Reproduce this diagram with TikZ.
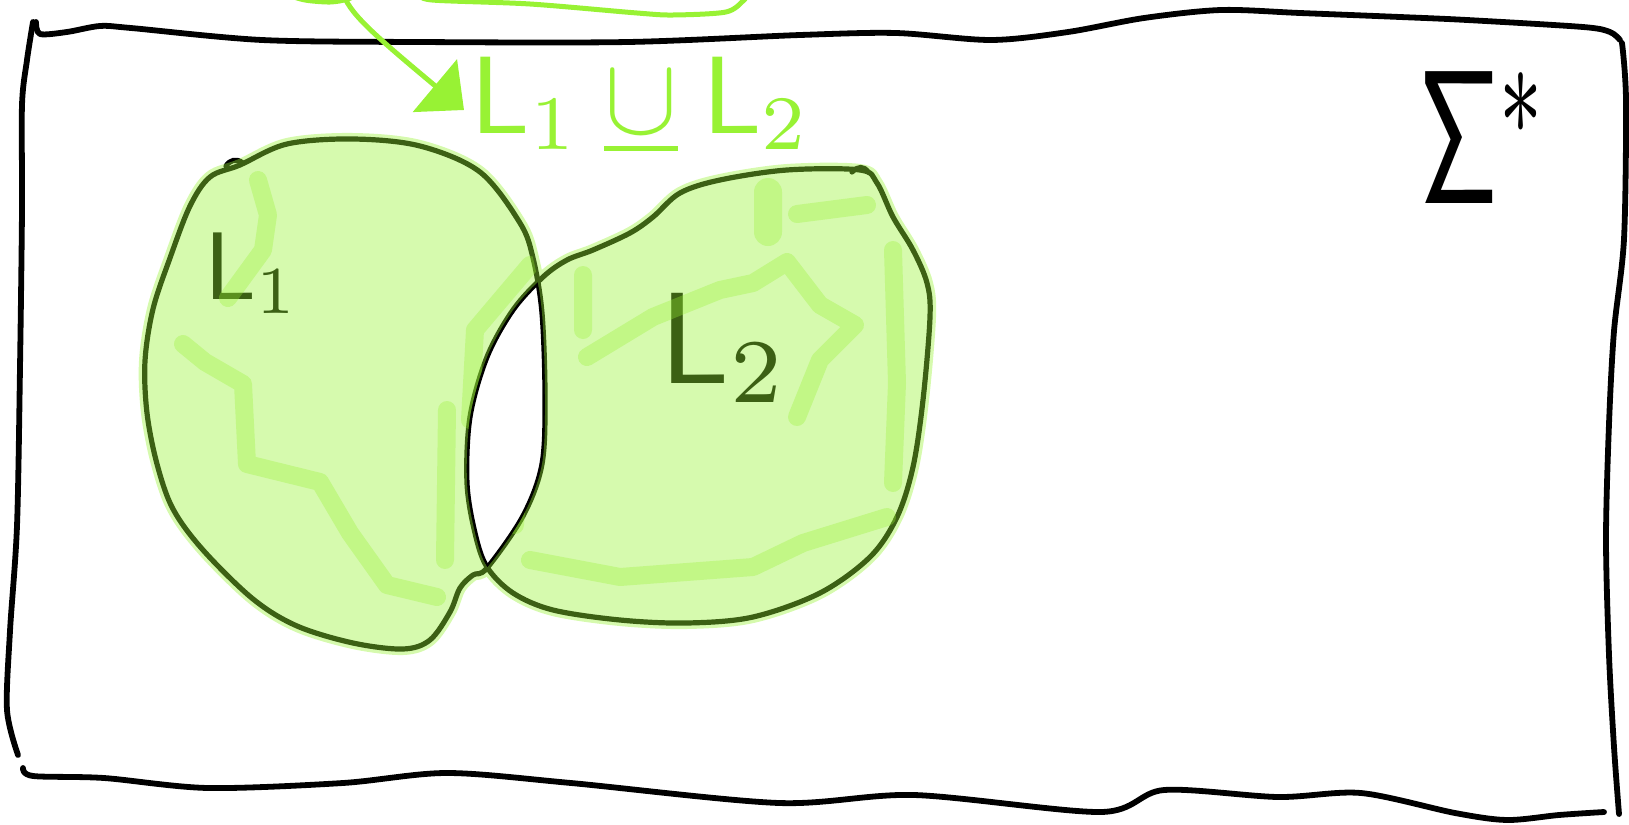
\documentclass[tikz,border=0pt]{standalone}
\usetikzlibrary{arrows.meta}
\definecolor{hl}{HTML}{98F234}
\tikzset{
  frame/.style={line width=2.9pt, line cap=round, line join=round, black},
  setline/.style={line width=2.6pt, line cap=round, line join=round, black},
  gline/.style={hl, line width=2.5pt, line cap=round, line join=round},
  patch/.style={hl, line width=9pt, line cap=round, line join=round}
}
\def\LonePath{plot[smooth cycle, tension=0.55] coordinates {
    (487,568) (523,516) (542,464) (545,396) (542,313) (533,258) (520,223)
    (480,172) (420,146) (353,139) (287,144) (240,165) (210,177) (190,206)
    (170,258) (153,309) (145,361) (147,413) (157,464) (173,509) (203,550)
    (253,599) (297,626) (353,643) (403,649) (430,640) (450,612) (460,588)
    (473,575)}}
\def\LtwoPath{plot[smooth cycle, tension=0.55] coordinates {
    (487,567) (513,593) (553,610) (620,620) (687,623) (753,617) (820,593)
    (870,557) (897,517) (913,467) (923,400) (930,317) (927,283) (913,250)
    (893,217) (877,183) (860,170) (787,170) (720,180) (680,193) (653,217)
    (630,233) (593,250) (567,260) (543,277) (513,310) (487,357) (470,417)
    (467,483) (475,533)}}
\begin{document}
\begin{tikzpicture}[x=0.5pt,y=-0.5pt]
\useasboundingbox (0,0) rectangle (1629,825);
\clip (0,0) rectangle (1629,825);

% frame
\draw[frame] plot[smooth, tension=0.5] coordinates {
  (36,22) (40,34) (67,32) (100,26) (131,28) (262,40) (418,42) (628,42)
  (800,35) (896,33) (991,40) (1068,32) (1144,18) (1221,10) (1300,13)
  (1400,17) (1467,20) (1583,27) (1610,32) (1620,40)};
\draw[frame] plot[smooth, tension=0.5] coordinates {
  (33,22) (27,60) (22,105) (22,210) (20,368) (17,526) (10,631) (7,710) (18,755)};
\draw[frame] plot[smooth, tension=0.5] coordinates {
  (1622,43) (1626,100) (1624,239) (1614,331) (1609,424) (1606,539)
  (1609,655) (1614,747) (1619,814)};
\draw[frame] plot[smooth, tension=0.5] coordinates {
  (23,768) (33,776) (104,778) (208,788) (343,783) (447,773) (571,783)
  (779,803) (914,795) (1101,812) (1164,790) (1278,797) (1361,793)
  (1455,813) (1507,820) (1559,815) (1604,812)};

% set outlines
\draw[setline] \LonePath;
\draw[setline] \LtwoPath;
\draw[setline] (243,163) .. controls (236,158) and (230,160) .. (226,166);
\draw[setline] (852,172) .. controls (858,166) and (864,166) .. (868,172);

% set labels (under the highlighter)
\coordinate (p1) at (203,299);
\coordinate (p2) at (657,383);
\node[anchor=base west, inner sep=0pt, scale=4.8, black] (lab1) at (p1) {$\mathsf{L}_1$};
\node[anchor=base west, inner sep=0pt, scale=6.5, black] (lab2) at (p2) {$\mathsf{L}_2$};

% highlighter: symmetric difference
\begin{scope}[transparency group, opacity=0.4]
  \fill[hl, even odd rule] \LonePath \LtwoPath;
  \begin{scope}[even odd rule]
    \clip (-50,-50) rectangle (1700,900) \LtwoPath;
    \draw[hl, line width=6pt] \LonePath;
  \end{scope}
  \begin{scope}[even odd rule]
    \clip (-50,-50) rectangle (1700,900) \LonePath;
    \draw[hl, line width=6pt] \LtwoPath;
  \end{scope}
\end{scope}

% darker overlapping strokes
\begin{scope}[transparency group, opacity=0.33]
  \begin{scope}[even odd rule]
  \clip \LonePath \LtwoPath;
  \draw[patch] (258,180) -- (268,215) -- (263,250) -- (228,298);
  \draw[patch] (183,344) -- (205,362) -- (243,384) -- (247,464) -- (320,482)
     -- (350,533) -- (387,585) -- (437,597);
  \draw[patch] (470,420) -- (475,330) -- (530,265);
  \draw[patch] (447,410) -- (445,560);
  \draw[patch, line width=14pt] (768,192) -- (768,232);
  \draw[patch] (797,214) -- (867,205);
  \draw[patch] (587,357) -- (653,317) -- (720,290) -- (753,283) -- (787,262)
     -- (820,305) -- (855,325) -- (820,360) -- (797,417);
  \draw[patch] (583,275) -- (583,330);
  \draw[patch] (530,560) -- (620,577) -- (753,567) -- (803,543) -- (887,517);
  \draw[patch] (893,250) -- (897,383) -- (893,483);
  \draw[patch] (522,430) -- (515,525);
  \end{scope}
\end{scope}

% green annotation
\draw[gline] plot[smooth] coordinates {(285,-6) (305,0) (330,2) (348,-1) (362,-8)};
\draw[gline] plot[smooth] coordinates {(420,-6) (432,0) (530,4) (637,13) (673,15) (726,12) (744,0) (748,-6)};
\coordinate (src) at (344,-4);
\coordinate (tip) at (464,110);
\coordinate (pu) at (641,133);
\node[anchor=base, inner sep=0pt, scale=5.5, text=hl] (uni) at (pu)
  {$\mathsf{L}_1 \mathbin{\underline{\cup}} \mathsf{L}_2$};
\draw[gline, -{Triangle[length=19pt, width=34pt]}] (src) .. controls (352,16) and (378,38) .. (tip);

% Sigma star
\coordinate (ps) at (1417,203);
\node[anchor=base west, inner sep=0pt, xscale=5.5, yscale=9.5, black] (sig) at (ps) {$\mathsf{\Sigma}^{*}$};
\end{tikzpicture}
\end{document}
